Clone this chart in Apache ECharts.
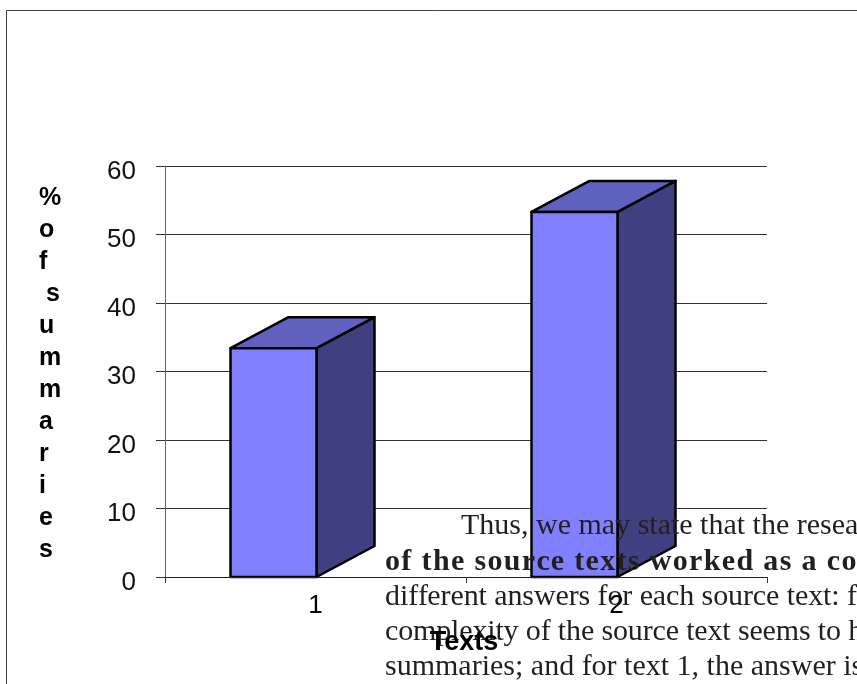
<!DOCTYPE html>
<html>
<head>
<meta charset="utf-8">
<style>html,body{margin:0;padding:0;background:#fff;overflow:hidden}#c{width:857px;height:684px}</style>
<script src="https://cdn.jsdelivr.net/npm/echarts@6/dist/echarts.min.js"></script>
</head>
<body>
<div id="c"></div>
<script>
const categories = ['1', '2'];
const percentSummaries = [33.4, 53.3];
const yAxisTitle = ['%', 'o', 'f', ' s', 'u', 'm', 'm', 'a', 'r', 'i', 'e', 's'];
const xAxisTitle = 'Texts';
const overlayLines = [
  {text: 'Thus, we may state that the resea', x: 461, y: 526.5, bold: false, spacing: 0},
  {text: 'of the source texts worked as a co', x: 385, y: 562.5, bold: true, spacing: 1.35},
  {text: 'different answers for each source text: f', x: 385, y: 597.5, bold: false, spacing: -0.1},
  {text: 'complexity of the source text seems to h', x: 385, y: 632.5, bold: false, spacing: -0.15},
  {text: 'summaries; and for text 1, the answer is', x: 385, y: 667.5, bold: false, spacing: 0}
];

const chart = echarts.init(document.getElementById('c'), null, {renderer: 'canvas'});
const barW = 86, depthX = 58, depthY = 31, barShift = 1;

function renderBar(params, api) {
  const top = api.coord([api.value(0), api.value(1)]);
  const base = api.coord([api.value(0), 0]);
  const r = top[0] + barShift, l = r - barW, t = top[1], b = base[1];
  const stroke = {stroke: '#000', lineWidth: 2.5, lineJoin: 'round'};
  return {
    type: 'group',
    children: [
      {type: 'polygon', shape: {points: [[r, t], [r + depthX, t - depthY], [r + depthX, b - depthY], [r, b]]},
        style: Object.assign({fill: '#404080'}, stroke)},
      {type: 'polygon', shape: {points: [[l, t], [l + depthX, t - depthY], [r + depthX, t - depthY], [r, t]]},
        style: Object.assign({fill: '#6060c0'}, stroke)},
      {type: 'rect', shape: {x: l, y: t, width: barW, height: b - t},
        style: Object.assign({fill: '#8080ff'}, stroke)}
    ]
  };
}

// Lines with tracking are laid out glyph by glyph, since canvas text has no letter spacing here.
const measure = document.createElement('canvas').getContext('2d');
function lineElements(l) {
  const font = (l.bold ? 'bold ' : '') + '30px "Liberation Serif"';
  const base = {type: 'text', z: 5, silent: true};
  const style = t => ({text: t, fill: '#231f20', verticalAlign: 'middle', font: font});
  if (!l.spacing) return [Object.assign({}, base, {x: l.x, y: l.y, style: style(l.text)})];
  measure.font = font;
  return Array.from(l.text).map((ch, i) => {
    const prefix = l.text.slice(0, i);
    return Object.assign({}, base, {
      x: l.x + measure.measureText(prefix).width + i * l.spacing,
      y: l.y, style: style(ch)
    });
  });
}

chart.setOption({
  animation: false,
  backgroundColor: '#fff',
  grid: {left: 165, right: 90, top: 166, bottom: 107},
  xAxis: {
    type: 'category', data: categories, z: 10,
    axisLine: {lineStyle: {color: '#222', width: 1}},
    axisTick: {show: true, length: 6, lineStyle: {color: '#333', width: 1}},
    axisLabel: {fontFamily: 'Liberation Sans', fontSize: 26, color: '#000', margin: 16},
    splitLine: {show: false}
  },
  yAxis: {
    type: 'value', min: 0, max: 60, interval: 10,
    axisLine: {show: true, lineStyle: {color: '#666', width: 1}},
    axisTick: {show: true, length: 9, lineStyle: {color: '#333', width: 1}},
    axisLabel: {fontFamily: 'Liberation Sans', fontSize: 26, color: '#111', margin: 29,
      verticalAlign: 'top', lineHeight: 11},
    splitLine: {show: true, lineStyle: {color: '#333', width: 1}}
  },
  series: [{
    type: 'custom', coordinateSystem: 'cartesian2d', z: 2, clip: false,
    encode: {x: 0, y: 1},
    data: categories.map((c, i) => [i, percentSummaries[i]]),
    renderItem: renderBar
  }],
  graphic: {elements: [
    {type: 'rect', z: 1, silent: true, shape: {x: 6.5, y: 10.5, width: 1000, height: 1000},
      style: {fill: 'none', stroke: '#444', lineWidth: 1}},
    {type: 'text', z: 6, silent: true, x: 39, y: 374,
      style: {text: yAxisTitle.join('\n'), fill: '#000', align: 'left', verticalAlign: 'middle',
        lineHeight: 32, font: 'bold 25px "Liberation Sans"'}},
    {type: 'text', z: 6, silent: true, x: 464, y: 643,
      style: {text: xAxisTitle, fill: '#000', align: 'center', verticalAlign: 'middle',
        font: 'bold 27px "Liberation Sans"'}}
  ].concat(overlayLines.flatMap(lineElements))}
});
</script>
</body>
</html>
